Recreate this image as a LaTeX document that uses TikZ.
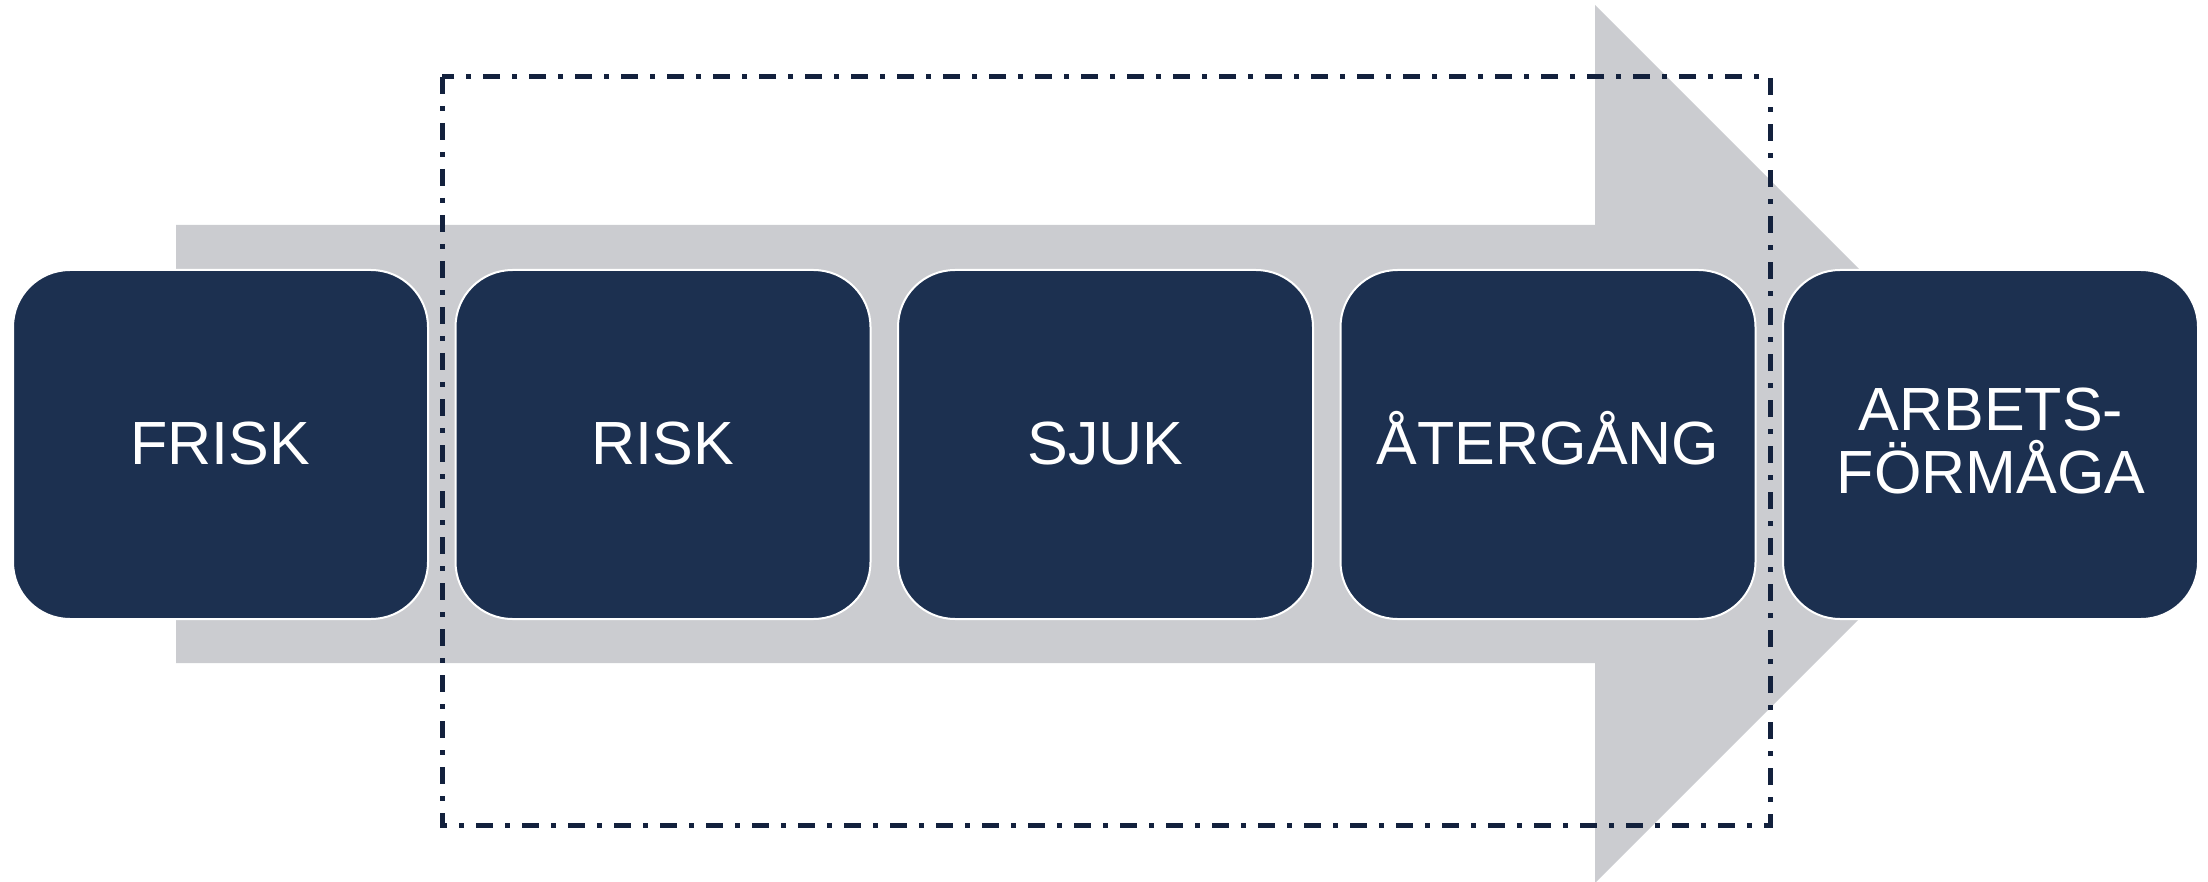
\documentclass[tikz,border=0pt]{standalone}
\usepackage{fontspec}
\setmainfont{Liberation Sans}
\definecolor{navy}{HTML}{1C3050}
\definecolor{arrowgray}{HTML}{CBCCD0}
\definecolor{dashnavy}{HTML}{13213D}
\tikzset{
  stagebox/.style={rectangle, rounded corners=57pt, fill=navy, draw=white, line width=2pt,
    minimum width=415pt, minimum height=349pt, inner sep=0pt, outer sep=0pt},
  stagelabel/.style={text=white, font=\fontsize{61}{63}\selectfont, inner sep=0pt, align=center},
  frameline/.style={draw=dashnavy, line width=5pt, dash pattern=on 17pt off 12pt on 5pt off 12pt}
}
\begin{document}
\begin{tikzpicture}[x=1pt, y=-1pt]
\useasboundingbox (0,0) rectangle (2208,882);
\begin{scope}
\clip (0,0) rectangle (2208,882);
\fill[arrowgray] (176,225) -- (1595,225) -- (1595,5) -- (2034,444) -- (1595,883) -- (1595,663) -- (176,663) -- cycle;
\end{scope}
\node[stagebox] (b1) at (220.5,444.5) {};
\node[stagebox] (b2) at (663,444.5) {};
\node[stagebox] (b3) at (1105.5,444.5) {};
\node[stagebox] (b4) at (1548,444.5) {};
\node[stagebox] (b5) at (1990.5,444.5) {};
\node[stagelabel, anchor=base] (t1) at (220.5,464) {FRISK};
\node[stagelabel, anchor=base] (t2) at (663,464) {RISK};
\node[stagelabel, anchor=base] (t3) at (1105.5,464) {SJUK};
\node[stagelabel, anchor=base] (t4) at (1548,464) {ÅTERGÅNG};
\node[stagelabel, anchor=center] (t5) at (1991,441.5) {ARBETS-\\FÖRMÅGA};
\coordinate (f1) at (442,77);
\coordinate (f2) at (1770,825);
\draw[frameline] (f1) rectangle (f2);
\end{tikzpicture}
\end{document}
